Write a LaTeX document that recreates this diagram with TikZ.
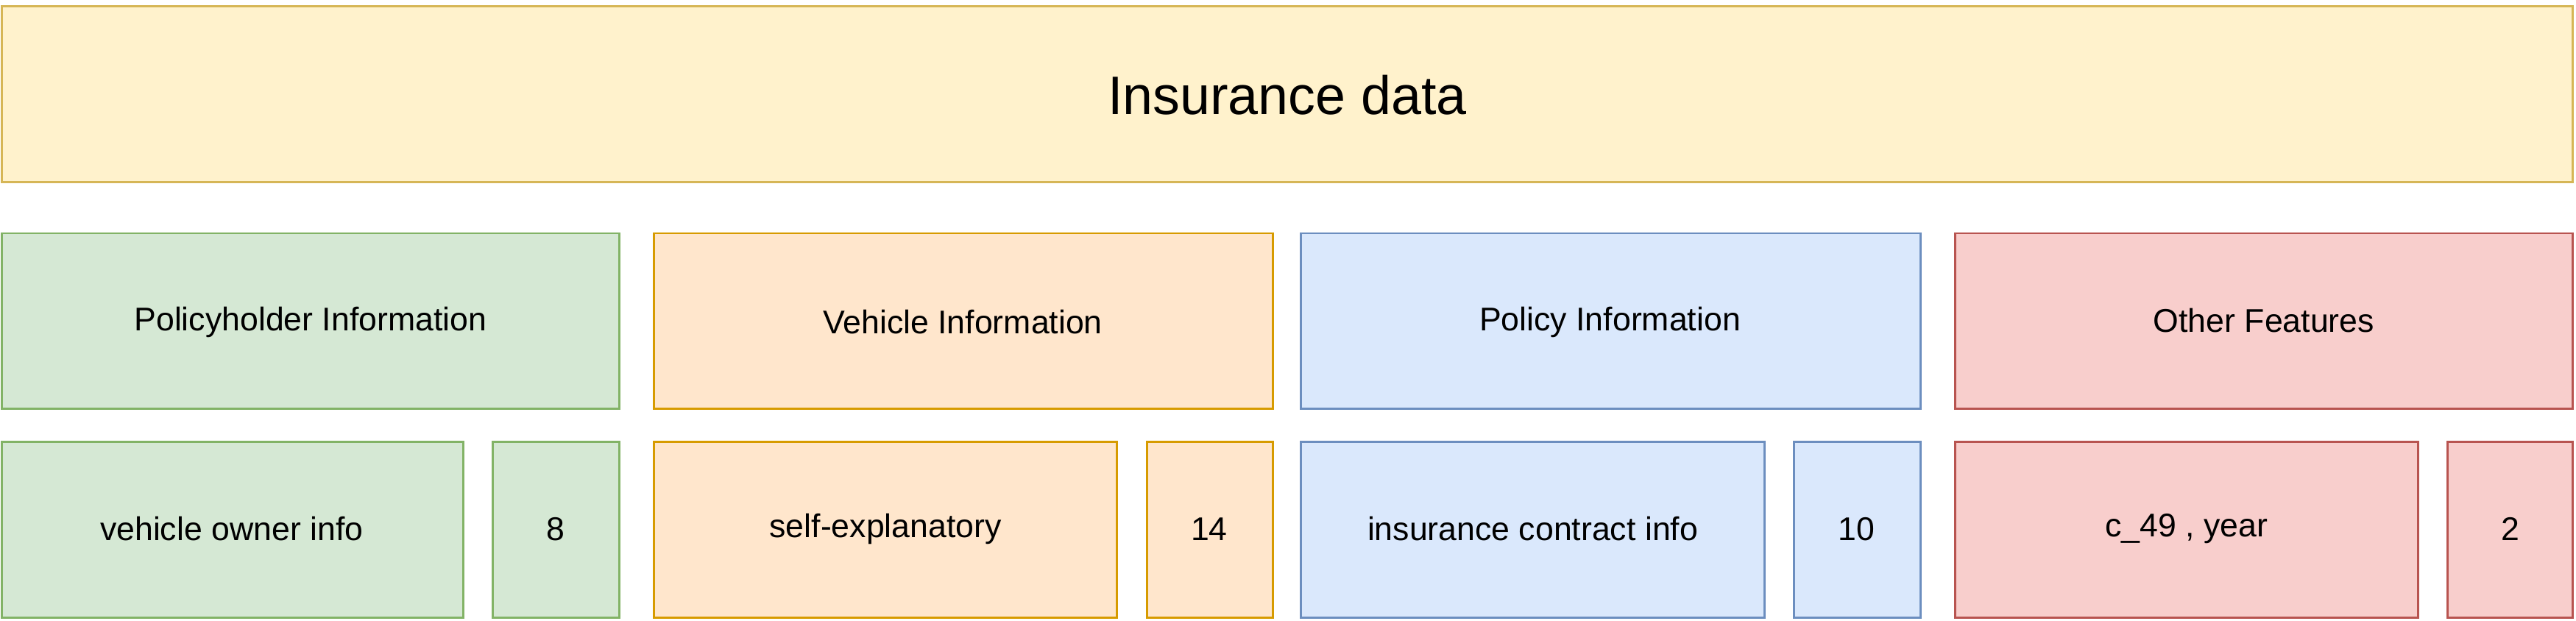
\documentclass[tikz,border=0pt]{standalone}
\usepackage{fontspec}
\setmainfont{Liberation Sans}
\begin{document}
\begin{tikzpicture}[x=1pt,y=-1pt,
  bx/.style={draw,line width=1.3pt,inner sep=0pt},
  yl/.style={bx,fill=yfill,draw=ydraw},
  gr/.style={bx,fill=gfill,draw=gdraw},
  orc/.style={bx,fill=ofill,draw=odraw},
  bl/.style={bx,fill=bfill,draw=bdraw},
  rd/.style={bx,fill=rfill,draw=rdraw},
  lbl/.style={font=\fontsize{20}{24}\selectfont},
  ttl/.style={font=\fontsize{33}{38}\selectfont}]
\definecolor{yfill}{HTML}{FFF2CC}\definecolor{ydraw}{HTML}{D6B656}
\definecolor{gfill}{HTML}{D5E8D4}\definecolor{gdraw}{HTML}{82B366}
\definecolor{ofill}{HTML}{FFE6CC}\definecolor{odraw}{HTML}{D79B00}
\definecolor{bfill}{HTML}{DAE8FC}\definecolor{bdraw}{HTML}{6C8EBF}
\definecolor{rfill}{HTML}{F8CECC}\definecolor{rdraw}{HTML}{B85450}
\useasboundingbox (0,0) rectangle (1568,378);
\draw[yl] (1,4) rectangle (1566,111);
\node[ttl] (t) at (783.5,58) {Insurance data};
% row 2
\draw[gr] (1,142) rectangle (377,249);
\node[lbl] (a) at (189,196) {Policyholder Information};
\draw[orc] (398,142) rectangle (775,249);
\node[lbl] (b) at (586,196) {Vehicle Information};
\draw[bl] (792,142) rectangle (1169,249);
\node[lbl] (c) at (980,196) {Policy Information};
\draw[rd] (1190,142) rectangle (1566,249);
\node[lbl] (d) at (1378,195) {Other Features};
% row 3
\draw[gr] (1,269) rectangle (282,376);
\node[lbl] (a1) at (141,322) {vehicle owner info};
\draw[gr] (300,269) rectangle (377,376);
\node[lbl] (a2) at (338,322) {8};
\draw[orc] (398,269) rectangle (680,376);
\node[lbl] (b1) at (539,322) {self-explanatory};
\draw[orc] (698,269) rectangle (775,376);
\node[lbl] (b2) at (736,322) {14};
\draw[bl] (792,269) rectangle (1074,376);
\node[lbl] (c1) at (933,322) {insurance contract info};
\draw[bl] (1092,269) rectangle (1169,376);
\node[lbl] (c2) at (1130,322) {10};
\draw[rd] (1190,269) rectangle (1472,376);
\node[lbl] (d1) at (1331,322) {c\_49 , year};
\draw[rd] (1490,269) rectangle (1566,376);
\node[lbl] (d2) at (1528,322) {2};
\end{tikzpicture}
\end{document}
